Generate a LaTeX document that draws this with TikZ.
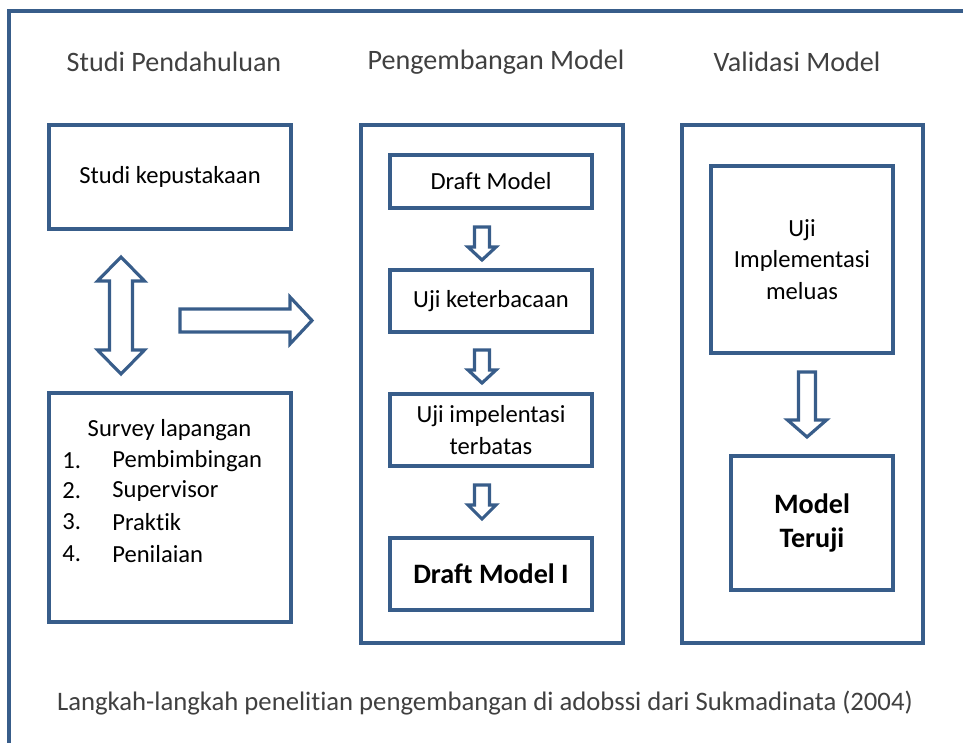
\documentclass[tikz,border=0pt]{standalone}
\usepackage{fontspec}
\setmainfont{Carlito}[Ligatures={TeX,NoCommon}]
\usepackage[dvipsnames,svgnames]{xcolor}
\usetikzlibrary{positioning}
\definecolor{frameblue}{HTML}{385D8A}
\tikzset{box/.style={draw=frameblue,line width=2.2pt,fill=white,align=center,inner sep=0pt,font=\fontsize{14}{18}\selectfont}}
\tikzset{blk/.style={draw=frameblue,line width=1.8pt,fill=white,line join=miter}}
\tikzset{heading/.style={text=black!75,font=\fontsize{16}{19}\selectfont}}
\tikzset{item/.style={anchor=west,inner sep=0pt,font=\fontsize{14}{18}\selectfont}}

% block arrow: x, y top, y head, y tip, half shaft, half head
\newcommand{\blkdown}[6]{\draw[blk] ({#1-#5},#2)--({#1+#5},#2)--({#1+#5},#3)--({#1+#6},#3)--(#1,#4)--({#1-#6},#3)--({#1-#5},#3)--cycle;}

\begin{document}
\begin{tikzpicture}[x=0.02cm,y=-0.02cm] % 1 unit = 1 px
        \useasboundingbox (0,0) rectangle (963,743);
        \draw[frameblue,line width=2.2pt] (963,11)--(9,11)--(9,743);  % outer frame
        \node[heading] (hstudi) at (174,62) {Studi Pendahuluan};
        \node[heading] (hpeng) at (496,62) {Pengembangan Model};
        \node[heading] (hvalid) at (797,62) {Validasi Model};
        % column 1
        \node[box,minimum width=4.84cm,minimum height=2.08cm] (pustaka) at (170,177) {Studi kepustakaan};
        \node[box,minimum width=4.84cm,minimum height=4.58cm] (survey) at (170,507.5) {};
        \node[item,anchor=center] (slap) at (169.5,430) {Survey lapangan};
        \foreach \n/\t/\y in {1/Pembimbingan/461,2/Supervisor/491,3/Praktik/522,4/Penilaian/554}{
          \node[item] (num\n) at (62,\y) {\n.};
          \node[item] (it\n) at (112,\y) {\t};
        }
        \draw[blk] (121,257)--(144.5,281)--(132.5,281)--(132.5,350)--(144.5,350)--(121,374)
          --(97.5,350)--(109.5,350)--(109.5,281)--(97.5,281)--cycle;
        \draw[blk] (180,309)--(290,309)--(290,297)--(312,320.5)--(290,344)--(290,332)--(180,332)--cycle;
        % column 2
        \node[box,minimum width=5.24cm,minimum height=10.36cm] (pengbox) at (492,384) {};
        \node[box,minimum width=4.04cm,minimum height=1.06cm] (draft) at (491,181.5) {Draft Model};
        \node[box,minimum width=4.04cm,minimum height=1.24cm] (baca) at (491,301) {Uji keterbacaan};
        \node[box,minimum width=4.04cm,minimum height=1.44cm] (terbatas) at (491,430) {Uji impelentasi\\terbatas};
        \node[box,minimum width=4.04cm,minimum height=1.44cm,font=\fontsize{16}{19}\bfseries] (draftI) at (491,574) {Draft Model I};
        \blkdown{482}{227}{247}{260}{7.5}{14}
        \blkdown{482}{350}{370}{383}{7.5}{14}
        \blkdown{482}{485}{505}{519}{7.5}{14}
        % column 3
        \node[box,minimum width=4.82cm,minimum height=10.36cm] (validbox) at (802.5,384) {};
        \node[box,minimum width=3.64cm,minimum height=3.74cm] (meluas) at (802,259.5) {Uji\\Implementasi\\meluas};
        \node[box,minimum width=3.24cm,minimum height=2.68cm,font=\fontsize{16}{19}\bfseries] (teruji) at (812,523) {Model\\Teruji};
        \blkdown{807}{372}{420}{437}{8.5}{19.5}
        \node[heading,font=\fontsize{15.2}{18}\selectfont] (caption) at (485,703) {Langkah-langkah penelitian pengembangan di adobssi dari Sukmadinata (2004)};
\end{tikzpicture}
\end{document}
